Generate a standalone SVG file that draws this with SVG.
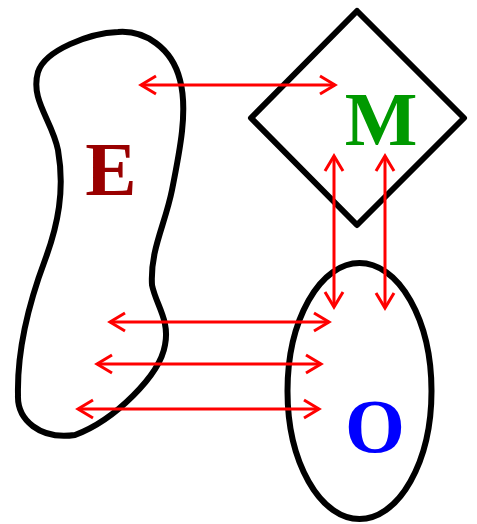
<svg xmlns="http://www.w3.org/2000/svg" width="477" height="524" viewBox="0 0 477 524">
<style>
.shape{fill:none;stroke:#000;stroke-width:6;stroke-linejoin:round}
.conn{stroke:#ff0000;stroke-width:3;fill:none}
.lbl{font-family:"Liberation Serif","Times New Roman",serif;font-weight:bold;font-size:77px;text-anchor:middle}
</style>
<defs>
<marker id="ah" markerUnits="userSpaceOnUse" markerWidth="24" markerHeight="24" viewBox="-18 -12 20 24" refX="0" refY="0" orient="auto-start-reverse">
<path d="M-15,-9 L0,0 L-15,9" fill="none" stroke="#ff0000" stroke-width="3"/>
</marker>
</defs>
<rect width="477" height="524" fill="#fff"/>
<g id="E">
<path class="shape" d="M118,32 C145,30 172,48 180,80 C188,110 180,150 172,190 C165,225 150,250 152,285 C156,305 170,320 165,345 C160,375 115,420 75,435 C40,440 17,420 18,395 C17,350 30,300 45,260 C58,225 65,190 58,150 C52,120 30,100 38,72 C45,50 90,33 118,32 Z"/>
<text class="lbl" x="111" y="195" fill="#990000">E</text>
</g>
<g id="M">
<polygon class="shape" points="357,11 464,118 357,225 251,118"/>
<text class="lbl" x="381" y="145" fill="#009900">M</text>
</g>
<g id="O">
<ellipse class="shape" cx="359.5" cy="391" rx="72" ry="128" stroke-width="5"/>
<text class="lbl" x="375" y="452" fill="#0000ff">O</text>
</g>
<g id="connectors">
<line class="conn" x1="141" y1="85" x2="335" y2="85" marker-start="url(#ah)" marker-end="url(#ah)"/>
<line class="conn" x1="334" y1="156" x2="334" y2="307" marker-start="url(#ah)" marker-end="url(#ah)"/>
<line class="conn" x1="385" y1="156" x2="385" y2="308" marker-start="url(#ah)" marker-end="url(#ah)"/>
<line class="conn" x1="110" y1="322" x2="329" y2="322" marker-start="url(#ah)" marker-end="url(#ah)"/>
<line class="conn" x1="97" y1="364" x2="321" y2="364" marker-start="url(#ah)" marker-end="url(#ah)"/>
<line class="conn" x1="78" y1="409" x2="319" y2="409" marker-start="url(#ah)" marker-end="url(#ah)"/>
</g>
</svg>
